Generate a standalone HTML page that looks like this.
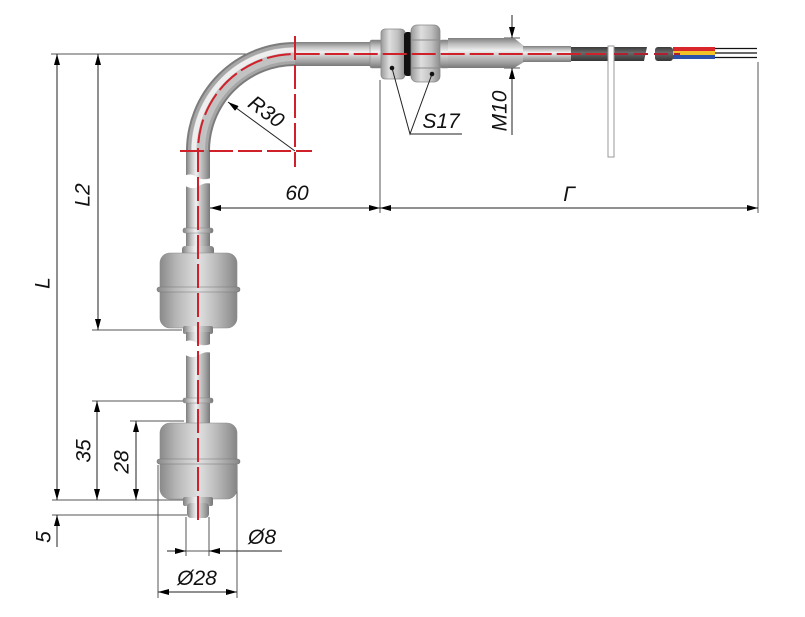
<!DOCTYPE html>
<html><head><meta charset="utf-8"><style>
html,body{margin:0;padding:0;background:#fff;}
svg{display:block;}
text{font-family:"Liberation Sans",sans-serif;font-style:italic;font-size:21px;fill:#111;}
</style></head><body>
<svg width="805" height="617" viewBox="0 0 805 617" xmlns="http://www.w3.org/2000/svg">
<defs>
<marker id="a" viewBox="0 0 11 6" refX="11" refY="3" markerWidth="11" markerHeight="6" orient="auto-start-reverse" markerUnits="userSpaceOnUse"><path d="M0,0 L11,3 L0,6 z" fill="#000"/></marker>
<linearGradient id="tv" x1="0" y1="0" x2="1" y2="0">
<stop offset="0" stop-color="#7e7e7e"/><stop offset="0.2" stop-color="#bdbdbd"/><stop offset="0.42" stop-color="#f0f0f0"/><stop offset="0.62" stop-color="#c4c4c4"/><stop offset="0.85" stop-color="#9a9a9a"/><stop offset="1" stop-color="#777"/></linearGradient>
<linearGradient id="th" x1="0" y1="0" x2="0" y2="1">
<stop offset="0" stop-color="#7e7e7e"/><stop offset="0.2" stop-color="#bdbdbd"/><stop offset="0.42" stop-color="#f0f0f0"/><stop offset="0.62" stop-color="#c4c4c4"/><stop offset="0.85" stop-color="#9a9a9a"/><stop offset="1" stop-color="#777"/></linearGradient>
<linearGradient id="fl" x1="0" y1="0" x2="1" y2="0">
<stop offset="0" stop-color="#8a8a8a"/><stop offset="0.2" stop-color="#b4b4b4"/><stop offset="0.5" stop-color="#e0e0e0"/><stop offset="0.7" stop-color="#c0c0c0"/><stop offset="0.9" stop-color="#9a9a9a"/><stop offset="1" stop-color="#858585"/></linearGradient>
<linearGradient id="nt" x1="0" y1="0" x2="1" y2="0">
<stop offset="0" stop-color="#9a9a9a"/><stop offset="0.35" stop-color="#dedede"/><stop offset="0.7" stop-color="#c0c0c0"/><stop offset="1" stop-color="#8c8c8c"/></linearGradient>
<linearGradient id="cb" x1="0" y1="0" x2="0" y2="1">
<stop offset="0" stop-color="#3a3a3a"/><stop offset="0.4" stop-color="#6a6a6a"/><stop offset="1" stop-color="#353535"/></linearGradient>
</defs>

<g stroke="#555" stroke-width="1" fill="none">
<line x1="51" y1="54" x2="290" y2="54"/>
<line x1="92" y1="330" x2="182" y2="330"/>
<line x1="92" y1="401" x2="184" y2="401"/>
<line x1="130" y1="421" x2="184" y2="421"/>
<line x1="52" y1="500" x2="184" y2="500"/>
<line x1="52" y1="515" x2="187" y2="515"/>
<line x1="186" y1="517" x2="186" y2="556"/>
<line x1="209" y1="517" x2="209" y2="556"/>
<line x1="158" y1="465" x2="158" y2="598"/>
<line x1="237" y1="465" x2="237" y2="598"/>
<line x1="380" y1="80" x2="380" y2="213"/>
<line x1="758" y1="62" x2="758" y2="213"/>
<line x1="512" y1="38" x2="512" y2="68"/>
<line x1="504" y1="38" x2="520" y2="38"/>
<line x1="504" y1="68" x2="520" y2="68"/>
<line x1="186" y1="551" x2="209" y2="551"/>
</g>
<g stroke="#222" stroke-width="1" fill="none">
<line x1="57" y1="54" x2="57" y2="500" marker-start="url(#a)" marker-end="url(#a)"/>
<line x1="98" y1="54" x2="98" y2="330" marker-start="url(#a)" marker-end="url(#a)"/>
<line x1="97" y1="401" x2="97" y2="500" marker-start="url(#a)" marker-end="url(#a)"/>
<line x1="136" y1="421" x2="136" y2="500" marker-start="url(#a)" marker-end="url(#a)"/>
<line x1="57" y1="547" x2="57" y2="515" marker-end="url(#a)"/>
<line x1="167" y1="551" x2="186" y2="551" marker-end="url(#a)"/>
<line x1="282" y1="551" x2="209" y2="551" marker-end="url(#a)"/>
<line x1="158" y1="592" x2="237" y2="592" marker-start="url(#a)" marker-end="url(#a)"/>
<line x1="210" y1="208" x2="380" y2="208" marker-start="url(#a)" marker-end="url(#a)"/>
<line x1="380" y1="208" x2="758" y2="208" marker-start="url(#a)" marker-end="url(#a)"/>
<line x1="512" y1="15" x2="512" y2="38" marker-end="url(#a)"/>
<line x1="512" y1="135" x2="512" y2="68" marker-end="url(#a)"/>
</g>

<g fill="none">
<path d="M198,152 A97,97 0 0 1 296,54" stroke="#7c7c7c" stroke-width="24"/>
<path d="M198,152 A97,97 0 0 1 296,54" stroke="#a6a6a6" stroke-width="20"/>
<path d="M198,152 A97,97 0 0 1 296,54" stroke="#c2c2c2" stroke-width="14"/>
<path d="M194,152 A101,101 0 0 1 296,50" stroke="#eeeeee" stroke-width="5"/>
</g>
<rect x="295" y="42" width="78" height="24" fill="url(#th)"/>
<rect x="186" y="150" width="24" height="30" fill="url(#tv)"/>
<rect x="186" y="180" width="24" height="70" fill="url(#tv)"/>
<rect x="183" y="228" width="30" height="5" rx="2" fill="url(#tv)" stroke="#888" stroke-width="0.6"/>
<rect x="182" y="246" width="32" height="10" rx="3" fill="url(#tv)"/>
<rect x="160" y="253" width="77" height="75" rx="10" fill="url(#fl)" stroke="#8a8a8a" stroke-width="0.6"/>
<rect x="157" y="287" width="83" height="5" rx="2.5" fill="url(#fl)" stroke="#777" stroke-width="0.6"/>
<rect x="183" y="326" width="30" height="8" rx="2" fill="url(#tv)"/>
<rect x="186" y="332" width="24" height="70" fill="url(#tv)"/>
<rect x="186" y="350" width="24" height="75" fill="url(#tv)"/>
<rect x="183" y="398" width="30" height="5" rx="2" fill="url(#tv)" stroke="#888" stroke-width="0.6"/>
<rect x="160" y="423" width="77" height="76" rx="10" fill="url(#fl)" stroke="#8a8a8a" stroke-width="0.6"/>
<rect x="157" y="459" width="83" height="5" rx="2.5" fill="url(#fl)" stroke="#777" stroke-width="0.6"/>
<rect x="183" y="497" width="30" height="9" rx="2" fill="url(#tv)"/>
<rect x="187" y="503" width="22" height="15" rx="4" fill="url(#tv)"/>

<path d="M182,177 Q190,172 197,177 T215,176 L215,185 Q206,181 199,186 T182,184 Z" fill="#fff"/>
<path d="M182,343 Q190,338 197,343 T215,342 L215,354 Q206,350 199,355 T182,353 Z" fill="#fff"/>

<rect x="370" y="40" width="12" height="28" rx="2" fill="url(#th)" stroke="#888" stroke-width="0.6"/>
<rect x="381" y="29" width="24" height="50" rx="4" fill="url(#nt)" stroke="#888" stroke-width="0.8"/>
<rect x="404" y="32" width="8" height="44" rx="3" fill="#111"/>
<rect x="411" y="25" width="29" height="57" rx="6" fill="url(#nt)" stroke="#888" stroke-width="0.8"/>
<line x1="412" y1="40" x2="439" y2="40" stroke="#8a8a8a" stroke-width="1"/>
<line x1="412" y1="68" x2="439" y2="68" stroke="#8a8a8a" stroke-width="1"/>
<rect x="440" y="40" width="9" height="28" rx="2" fill="url(#th)" stroke="#888" stroke-width="0.6"/>
<rect x="448" y="38" width="67" height="30" fill="url(#th)"/>
<path d="M514,38 L524,46 L524,62 L514,68 Z" fill="url(#th)"/>
<rect x="523" y="46" width="48" height="16" fill="url(#th)"/>
<rect x="571" y="47" width="76" height="14" fill="url(#cb)"/>
<path d="M647,47 L652,47 L649,61 L644,61 Z" fill="#fff"/>
<rect x="655" y="47" width="18" height="14" rx="3" fill="url(#cb)"/>
<rect x="673" y="47" width="42" height="4" fill="#d8262a"/>
<rect x="673" y="51" width="42" height="4" fill="#f2c227"/>
<rect x="673" y="55" width="42" height="4" fill="#2a52a8"/>
<g stroke="#111" stroke-width="1.3">
<line x1="715" y1="48.5" x2="757" y2="48.5"/>
<line x1="715" y1="53" x2="757" y2="53"/>
<line x1="715" y1="57.5" x2="757" y2="57.5"/>
</g>
<rect x="608" y="46" width="6" height="111" fill="#fff" stroke="#9a9a9a" stroke-width="1"/>

<g stroke="#d0202a" stroke-width="2" fill="none" stroke-dasharray="24 5">
<path d="M198,520 L198,151 A97,97 0 0 1 295,54 L606,54"/>
<line x1="180" y1="151" x2="312" y2="151"/>
<line x1="295" y1="36" x2="295" y2="167"/>
</g>
<line x1="614" y1="54" x2="680" y2="54" stroke="#b02030" stroke-width="2" stroke-dasharray="14 6"/>

<line x1="295" y1="151" x2="228" y2="102" stroke="#222" stroke-width="1" marker-end="url(#a)"/>

<g stroke="#222" stroke-width="1" fill="none">
<polyline points="392,68 410,134 432,74"/>
<line x1="410" y1="134" x2="462" y2="134"/>
</g>
<circle cx="392" cy="68" r="2.3" fill="#111"/>
<circle cx="432" cy="74" r="2.3" fill="#111"/>

<text x="266" y="112" text-anchor="middle" dominant-baseline="central" transform="rotate(36 266 112)">R30</text>
<text x="441" y="128" text-anchor="middle">S17</text>
<text transform="translate(500,111) rotate(-90)" text-anchor="middle" dominant-baseline="central">M10</text>
<text x="297" y="200" text-anchor="middle">60</text>
<text x="569" y="201" text-anchor="middle">Г</text>
<text transform="translate(83,195) rotate(-90)" text-anchor="middle" dominant-baseline="central">L2</text>
<text transform="translate(43,283) rotate(-90)" text-anchor="middle" dominant-baseline="central">L</text>
<text transform="translate(84,451) rotate(-90)" text-anchor="middle" dominant-baseline="central">35</text>
<text transform="translate(122,462) rotate(-90)" text-anchor="middle" dominant-baseline="central">28</text>
<text transform="translate(44,537) rotate(-90)" text-anchor="middle" dominant-baseline="central">5</text>
<text x="262" y="544" text-anchor="middle">Ø8</text>
<text x="197" y="585" text-anchor="middle">Ø28</text>
</svg>
</body></html>
